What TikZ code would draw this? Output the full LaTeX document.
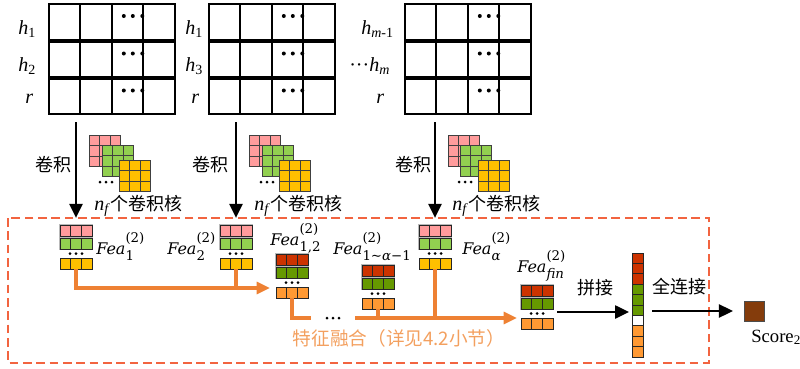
\RequirePackage{fix-cm}
\documentclass[tikz,border=0pt]{standalone}
\usepackage{fontspec}
\setmainfont{Liberation Serif}
\newfontfamily\cjk{Noto Sans CJK SC}
\newfontfamily\feafont{DejaVu Serif}
\usetikzlibrary{arrows.meta}

\definecolor{kpink}{HTML}{FF9C9C}
\definecolor{kgreen}{HTML}{92D050}
\definecolor{kyellow}{HTML}{FFC000}
\definecolor{fred}{HTML}{CC3300}
\definecolor{fgreen}{HTML}{669900}
\definecolor{forange}{HTML}{FF9933}
\definecolor{linkor}{HTML}{EE8133}
\definecolor{boxred}{HTML}{F26440}
\definecolor{textor}{HTML}{F3A05F}
\definecolor{scorebr}{HTML}{843C0C}

% input matrix: 3 rows x 4 columns, #1 = left edge
\newcommand\inputgrid[1]{%
  \foreach \t/\b in {4/40,41.5/76.5,78.5/114}{
    \foreach \c in {0,1,2,3}{
      \draw[gridline] (#1+\c*31.4,\t) rectangle (#1+\c*31.4+31.4,\b);
    }
    \foreach \d in {12,21,30.5}{\fill (#1+62.8+\d,\t+12) circle (2);}
  }%
}

% 3x3 convolution kernel, #1 x, #2 y, #3 colour
\newcommand\kernelsq[3]{%
  \foreach \i in {0,1,2}{\foreach \j in {0,1,2}{
    \draw[kcell,fill=#3] (#1+\i*10.5,#2+\j*10.5) rectangle (#1+\i*10.5+10.5,#2+\j*10.5+10.5);}}%
}

% three small dots, centred at (#1,#2)
\newcommand\threedots[2]{%
  \foreach \d in {-6,0,6}{\fill (#1+\d,#2) circle (1.5);}%
}

% feature stack: #1 name, #2 left x, #3 top y, #4 #5 #6 row colours
\newcommand\featstack[6]{%
  \fill[gray!55] (#2-0.8,#3-1.2) rectangle (#2+32.8,#3+25);
  \foreach \k in {0,1,2}{
    \draw[fcell,fill=#4] (#2+\k*10.67,#3) rectangle (#2+\k*10.67+10.67,#3+11);
    \draw[fcell,fill=#5] (#2+\k*10.67,#3+13) rectangle (#2+\k*10.67+10.67,#3+24);
    \draw[fcell,fill=#6] (#2+\k*10.67,#3+33) rectangle (#2+\k*10.67+10.67,#3+44);
  }
  \threedots{#2+16}{#3+28.5}
  \node[stackbox] (#1) at (#2+16,#3+22) {};
}

% "Fea" with stacked subscript #1 and superscript (2)
\newcommand\fealabel[1]{{\feafont\itshape Fea}{\feafont\fontsize{10}{11}\selectfont
  \setbox0=\hbox{#1}\setbox2=\hbox{(2)}%
  \dimen0=\wd0 \ifdim\wd2>\dimen0 \dimen0=\wd2 \fi
  \rlap{\raisebox{-5pt}{\box0}}\makebox[\dimen0][l]{\raisebox{8.5pt}{\box2}}}}

\begin{document}
\begin{tikzpicture}[x=0.75pt,y=-0.75pt,
  gridline/.style={draw=black, line width=1.5pt},
  kcell/.style={draw=black!75, line width=0.6pt},
  fcell/.style={draw=black!85, line width=0.6pt},
  stackbox/.style={minimum width=24pt, minimum height=33pt, inner sep=0pt},
  hlab/.style={anchor=base west, inner sep=0pt, font=\fontsize{15}{18}\selectfont},
  cnlab/.style={inner sep=0pt, font=\fontsize{13.5}{16}\selectfont\cjk},
  fealab/.style={anchor=base west, inner sep=0pt, font=\fontsize{12}{14}\selectfont},
  convarrow/.style={line width=1.1pt, -{Triangle[width=10pt,length=10.5pt]}},
  fuse/.style={draw=linkor, line width=2.3pt},
  fusetip/.style={fuse, -{Triangle[width=9pt,length=10pt]}},
  blackarrow/.style={line width=1.1pt, -{Triangle[width=10pt,length=10.5pt]}},
  kerntext/.style={anchor=west, inner sep=0pt, font=\fontsize{15}{18}\selectfont}
]
\useasboundingbox (0,0) rectangle (800,368);

% ---- input matrices ----
\inputgrid{49}
\inputgrid{209}
\inputgrid{405}

\node[hlab] (l11) at (18,34) {\textit{h}\textsubscript{1}};
\node[hlab] (l12) at (18,71) {\textit{h}\textsubscript{2}};
\node[hlab] (l13) at (25,103) {\textit{r}};
\node[hlab] (l21) at (185,34) {\textit{h}\textsubscript{1}};
\node[hlab] (l22) at (185,71) {\textit{h}\textsubscript{3}};
\node[hlab] (l23) at (191,103) {\textit{r}};
\node[hlab] (l31) at (361,34) {\textit{h}\textsubscript{\textit{m}-1}};
\node[hlab] (l32) at (349,71) {···\textit{h}\textsubscript{\textit{m}}};
\node[hlab] (l33) at (376,103) {\textit{r}};

\coordinate (g1) at (76,122);
\coordinate (g2) at (236,122);
\coordinate (g3) at (435,122);

% ---- kernels ----
\kernelsq{89}{135}{kpink}
\kernelsq{102}{145}{kgreen}
\kernelsq{119}{160}{kyellow}
\threedots{106}{182}
\kernelsq{249}{135}{kpink}
\kernelsq{262}{145}{kgreen}
\kernelsq{279}{160}{kyellow}
\threedots{267}{182}
\kernelsq{448}{135}{kpink}
\kernelsq{460}{145}{kgreen}
\kernelsq{478}{160}{kyellow}
\threedots{465}{182}

\node[cnlab] (conv1) at (53,165) {卷积};
\node[cnlab] (conv2) at (210,165) {卷积};
\node[cnlab] (conv3) at (413,165) {卷积};
\node[kerntext] (kn1) at (94,206) {\textit{n}\textsubscript{\textit{f}}{\fontsize{13.5}{16}\selectfont\cjk 个卷积核}};
\node[kerntext] (kn2) at (254,206) {\textit{n}\textsubscript{\textit{f}}{\fontsize{13.5}{16}\selectfont\cjk 个卷积核}};
\node[kerntext] (kn3) at (452,206) {\textit{n}\textsubscript{\textit{f}}{\fontsize{13.5}{16}\selectfont\cjk 个卷积核}};

% ---- fusion frame ----
\draw[boxred, line width=1.1pt, dash pattern=on 6.5pt off 3.5pt] (8,218) rectangle (709,363);

% ---- feature stacks ----
\featstack{fea1}{60}{225}{kpink}{kgreen}{kyellow}
\featstack{fea2}{220}{225}{kpink}{kgreen}{kyellow}
\featstack{fea12}{276}{254}{fred}{fgreen}{forange}
\featstack{feaa1}{362}{265}{fred}{fgreen}{forange}
\featstack{feaa}{419}{225}{kpink}{kgreen}{kyellow}
\featstack{feafin}{521}{285}{fred}{fgreen}{forange}

\node[fealab] (t1) at (96,254) {\fealabel{1}};
\node[fealab] (t2) at (167,254) {\fealabel{2}};
\node[fealab] (t12) at (270,245) {\fealabel{1,2}};
\node[fealab] (ta1) at (333,254) {\fealabel{1\textasciitilde\textit{α}−1}};
\node[fealab] (ta) at (462,254) {\fealabel{\textit{α}}};
\node[fealab] (tfin) at (517,272) {\fealabel{\textit{fin}}};

% ---- convolution arrows ----
\draw[convarrow, shorten >=5.2pt] (g1) -- (fea1.north);
\draw[convarrow, shorten >=5.2pt] (g2) -- (fea2.north);
\draw[convarrow, shorten >=5.2pt] (g3) -- (feaa.north);

% ---- fusion connectors ----
\coordinate (m1) at (270,288);
\draw[fusetip] (fea1.south) |- (m1);
\draw[fuse] (fea2.south) -- (fea2.south |- m1);

\coordinate (m2a) at (311,318);
\coordinate (m2b) at (355,318);
\coordinate (m2) at (517,318);
\draw[fuse] (fea12.south) |- (m2a);
\threedots{333}{318}
\draw[fusetip] (m2b) -- (m2);
\draw[fuse] (feaa1.south) -- (feaa1.south |- m2);
\draw[fuse] (feaa.south) -- (feaa.south |- m2);

\node[cnlab, text=textor, font=\fontsize{14}{16}\selectfont\cjk] (fuselab) at (399,338) {特征融合（详见4.2小节）};

% ---- concatenated vector ----
\node[inner sep=0pt, minimum width=8.25pt, minimum height=78pt] (cat) at (637.5,305) {};
\foreach \col [count=\n from 0] in {fred,fred,fred,fgreen,fgreen,fgreen,white,forange,forange,forange}{
  \draw[fcell, fill=\col] (632,253+\n*10.4) rectangle (643,263.4+\n*10.4);
}
\coordinate (catin) at (629,312);
\draw[blackarrow] (feafin.east) ++(4,5) -- (catin);
\node[cnlab] (joinlab) at (595,288) {拼接};

% ---- score ----
\node[draw=black!70, line width=0.6pt, fill=scorebr, minimum size=15pt, inner sep=0pt] (score) at (754,311) {};
\draw[blackarrow, shorten >=8pt] (cat.east) ++(9,6) -- (score.west);
\node[cnlab] (fclab) at (679,287) {全连接};
\node[anchor=base west, inner sep=0pt, font=\fontsize{14}{16}\selectfont] (scorelab) at (751,342) {Score\textsubscript{2}};
\end{tikzpicture}
\end{document}
